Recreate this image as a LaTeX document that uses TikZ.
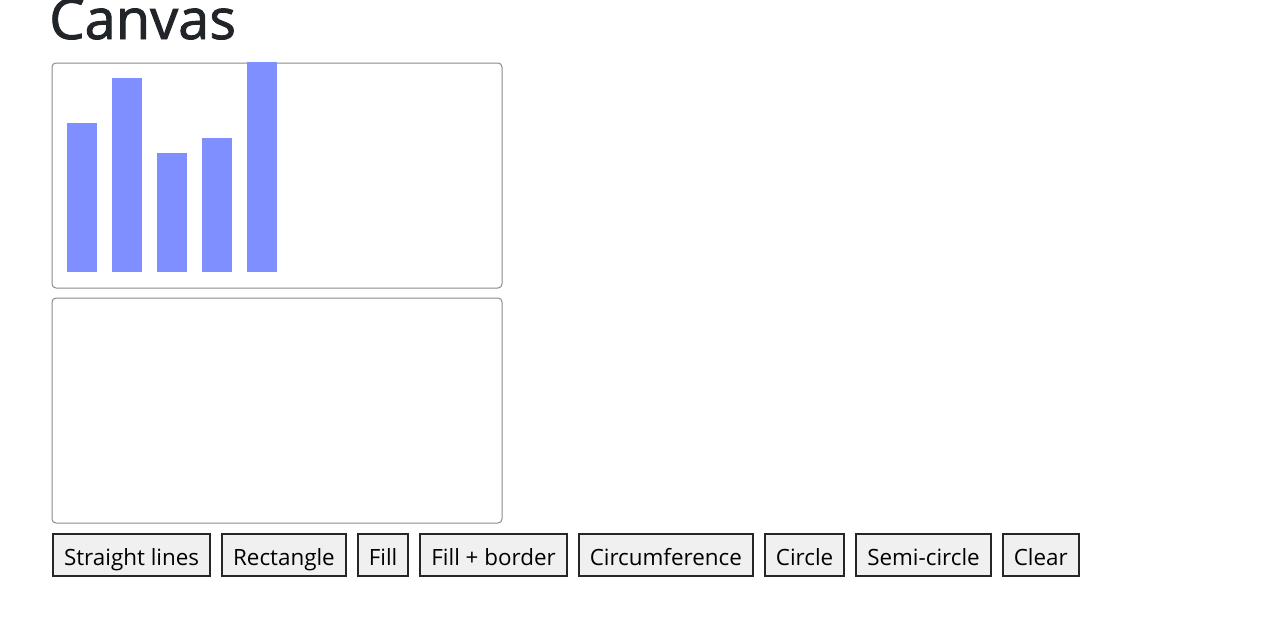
\documentclass[tikz,border=0pt]{standalone}
\usepackage{fontspec}
\setmainfont{Open Sans}
\newfontfamily\titlefont[FakeBold=1.6]{Open Sans}
\usetikzlibrary{positioning}
\definecolor{barblue}{HTML}{7F8FFF}
\definecolor{titlegray}{HTML}{212529}
\definecolor{btnfill}{HTML}{F0F0F0}
\definecolor{panelgray}{HTML}{8A8A8A}

\begin{document}
\begin{tikzpicture}[x=0.75pt,y=-0.75pt,
	panel/.style={draw=panelgray, line width=0.75pt, rounded corners=3pt, anchor=north west,
		inner sep=0pt, minimum width=337.5pt, minimum height=168.75pt},
	btn/.style={draw=black!85, line width=1.6pt, fill=btnfill, minimum height=31.5pt,
		inner xsep=8.2pt, inner ysep=0pt, text height=16pt, text depth=1pt,
		font=\fontsize{16.8}{20}\selectfont},
	bar/.style={fill=barblue},
	node distance=7.5pt]
	\useasboundingbox (0,0) rectangle (1266,621);
	\node[anchor=base west, inner sep=0pt, text=titlegray, font=\titlefont\fontsize{42}{50}\selectfont] (title) at (49,39) {Canvas};
	% canvases
	\node[panel] (chart) at (51.5,62.5) {};
	\node[panel] (sketch) at (51.5,297.5) {};
	\begin{scope}
		\clip (51.5,62.5) rectangle (502.5,288.5);
		\foreach \x/\top in {67/123, 112/78, 157/153, 202/138, 247/40}
			\fill[bar] (\x,\top) rectangle (\x+30,272);
	\end{scope}
	% buttons
	\node[btn, anchor=north west] (lines) at (52,533) {Straight lines};
	\node[btn, right=of lines] (rect) {Rectangle};
	\node[btn, right=of rect] (fill) {Fill};
	\node[btn, right=of fill] (fillborder) {Fill + border};
	\node[btn, right=of fillborder] (circum) {Circumference};
	\node[btn, right=of circum] (circle) {Circle};
	\node[btn, right=of circle] (semi) {Semi-circle};
	\node[btn, right=of semi] (clear) {Clear};
\end{tikzpicture}
\end{document}
